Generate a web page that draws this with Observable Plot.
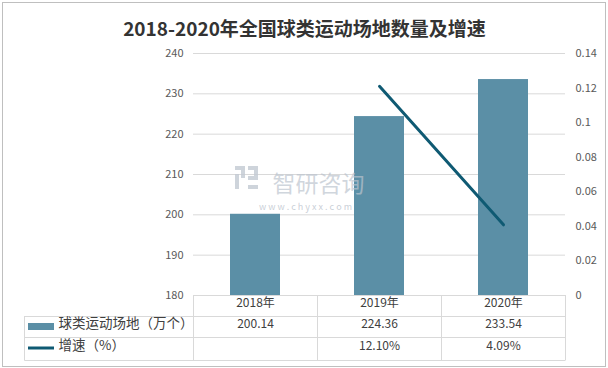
<!DOCTYPE html>
<html>
<head>
<meta charset="utf-8">
<script src="https://cdn.jsdelivr.net/npm/d3@7"></script>
<script src="https://cdn.jsdelivr.net/npm/@observablehq/plot@0.6"></script>
<style>
  html, body { margin: 0; padding: 0; background: #fff; }
  #chart { position: relative; width: 608px; height: 368px; }
  svg { display: block; }
</style>
</head>
<body>
<div id="chart"></div>
<script>
const title = "2018-2020年全国球类运动场地数量及增速";
const categories = ["2018年", "2019年", "2020年"];
const venues = [200.14, 224.36, 233.54];          // 万个
const growth = [null, 0.1210, 0.0409];             // 增速
const venueLabels = ["200.14", "224.36", "233.54"];
const growthLabels = ["", "12.10%", "4.09%"];
const seriesNames = ["球类运动场地（万个）", "增速（%）"];
const leftTicks = [180, 190, 200, 210, 220, 230, 240];
const rightTicks = [0, 0.02, 0.04, 0.06, 0.08, 0.1, 0.12, 0.14];
const rightTickLabels = ["0", "0.02", "0.04", "0.06", "0.08", "0.1", "0.12", "0.14"];

const barColor = "#5b8fa6";
const lineColor = "#0f5a73";
const gridColor = "#d9d9d9";
const font = "'Noto Sans CJK SC', 'Noto Sans', sans-serif";

// map right-axis growth values onto left scale
const yMin = 180, yMax = 240, gMax = 0.14;
const toLeft = g => yMin + g / gMax * (yMax - yMin);

const barData = categories.map((c, i) => ({cat: c, v: venues[i], label: venueLabels[i]}));
const lineData = categories.map((c, i) => ({cat: c, g: growth[i], label: growthLabels[i]})).filter(d => d.g != null);

function tableRender(index, scales, values, dim) {
  const x = scales.x;
  const svg = d3.create("svg:g");
  const centers = categories.map(c => {
    const bw = typeof x.bandwidth === "function" ? x.bandwidth() : (x.bandwidth || 0);
    return x(c) + bw / 2;
  });
  const step = centers[1] - centers[0];
  const left = centers[0] - step / 2;
  const right = centers[centers.length - 1] + step / 2;
  const top = dim.height - dim.marginBottom;   // 295
  const r1 = top + 21, r2 = top + 42, r3 = top + 65;
  const legendLeft = 24.5;
  const g = svg.append("g").attr("stroke", gridColor).attr("stroke-width", 1).attr("fill", "none");
  g.append("line").attr("x1", left).attr("x2", right).attr("y1", top + 0.5).attr("y2", top + 0.5);
  [r1, r2, r3].forEach(y => g.append("line").attr("x1", legendLeft).attr("x2", right).attr("y1", y + 0.5).attr("y2", y + 0.5));
  g.append("line").attr("x1", legendLeft).attr("x2", legendLeft).attr("y1", r1).attr("y2", r3 + 0.5);
  for (let i = 0; i <= categories.length; i++) {
    const xv = Math.round(left + i * step) + 0.5;
    g.append("line").attr("x1", xv).attr("x2", xv).attr("y1", top).attr("y2", r3 + 0.5);
  }
  svg.append("rect").attr("x", 28).attr("y", r1 + 7).attr("width", 26).attr("height", 7).attr("fill", barColor);
  svg.append("line").attr("x1", 28).attr("x2", 54).attr("y1", r2 + 11).attr("y2", r2 + 11)
    .attr("stroke", lineColor).attr("stroke-width", 3);
  svg.append("rect").attr("x", 2.5).attr("y", 2.5).attr("width", dim.width - 5).attr("height", dim.height - 4)
    .attr("fill", "none").attr("stroke", "#bfbfbf");
  return svg.node();
}

// watermark logo (decorative)
function logoRender() {
  const g = d3.create("svg:g").attr("fill", "#c3cad3").attr("opacity", 0.8);
  g.append("rect").attr("x", 235).attr("y", 166).attr("width", 10).attr("height", 4);
  g.append("rect").attr("x", 241).attr("y", 166).attr("width", 4).attr("height", 12);
  g.append("rect").attr("x", 235).attr("y", 174).attr("width", 4).attr("height", 15);
  g.append("rect").attr("x", 248).attr("y", 166).attr("width", 10).attr("height", 4);
  g.append("rect").attr("x", 248).attr("y", 176).attr("width", 10).attr("height", 4);
  g.append("rect").attr("x", 248).attr("y", 185).attr("width", 10).attr("height", 4);
  g.append("rect").attr("x", 254).attr("y", 166).attr("width", 4).attr("height", 12);
  return g.node();
}

const plot = Plot.plot({
  width: 608,
  height: 368,
  marginLeft: 193,
  marginRight: 43,
  marginTop: 53,
  marginBottom: 73,
  style: {fontFamily: font, background: "#fff", overflow: "visible"},
  x: {domain: categories, paddingInner: 0.6, paddingOuter: 0.3, axis: null},
  y: {domain: [yMin, yMax], axis: null},
  marks: [
    Plot.gridY(leftTicks.filter(t => t > yMin), {stroke: gridColor, strokeOpacity: 1}),
    Plot.axisY(leftTicks, {anchor: "left", tickSize: 0, tickPadding: 10, fill: "#595959", fontSize: 11, label: null}),
    Plot.axisY(rightTicks.map(toLeft), {
      anchor: "right", tickSize: 0, tickPadding: 10, fill: "#595959", fontSize: 11, label: null,
      tickFormat: d => rightTickLabels[rightTicks.findIndex(t => Math.abs(toLeft(t) - d) < 1e-6)]
    }),
    Plot.barY(barData, {x: "cat", y1: yMin, y2: "v", fill: barColor}),
    Plot.line(lineData, {x: "cat", y: d => toLeft(d.g), stroke: lineColor, strokeWidth: 3}),
    // watermark
    logoRender,
    Plot.text(["智研咨询"], {frameAnchor: "top-left", dx: 318 - 193, dy: 175 - 53, text: d => d,
      fontSize: 23, fill: "#bcc4ce", fillOpacity: 0.7, textAnchor: "middle"}),
    Plot.text(["w w w . c h y x x . c o m"], {frameAnchor: "top-left", dx: 305 - 193, dy: 203 - 53, text: d => d,
      fontSize: 9, fill: "#bcc4ce", fillOpacity: 0.8, textAnchor: "middle"}),
    tableRender,
    // table text
    Plot.text(categories, {x: d => d, frameAnchor: "bottom", dy: 11, text: d => d, fontSize: 12, fill: "#404040"}),
    Plot.text(barData, {x: "cat", frameAnchor: "bottom", dy: 32, text: "label", fontSize: 12, fill: "#404040"}),
    Plot.text(lineData, {x: "cat", frameAnchor: "bottom", dy: 54, text: "label", fontSize: 12, fill: "#404040"}),
    Plot.text([seriesNames[0]], {frameAnchor: "bottom-left", dx: 58 - 193, dy: 32, text: d => d, textAnchor: "start", fontSize: 13.5, fill: "#404040"}),
    Plot.text([seriesNames[1]], {frameAnchor: "bottom-left", dx: 58 - 193, dy: 54, text: d => d, textAnchor: "start", fontSize: 13.5, fill: "#404040"}),
    // title
    Plot.text([title], {frameAnchor: "top-left", dx: 304 - 193, dy: 22 - 53, text: d => d, textAnchor: "middle",
      fontSize: 19, fontWeight: "bold", fill: "#333333"})
  ]
});
document.getElementById("chart").appendChild(plot);
</script>
</body>
</html>
